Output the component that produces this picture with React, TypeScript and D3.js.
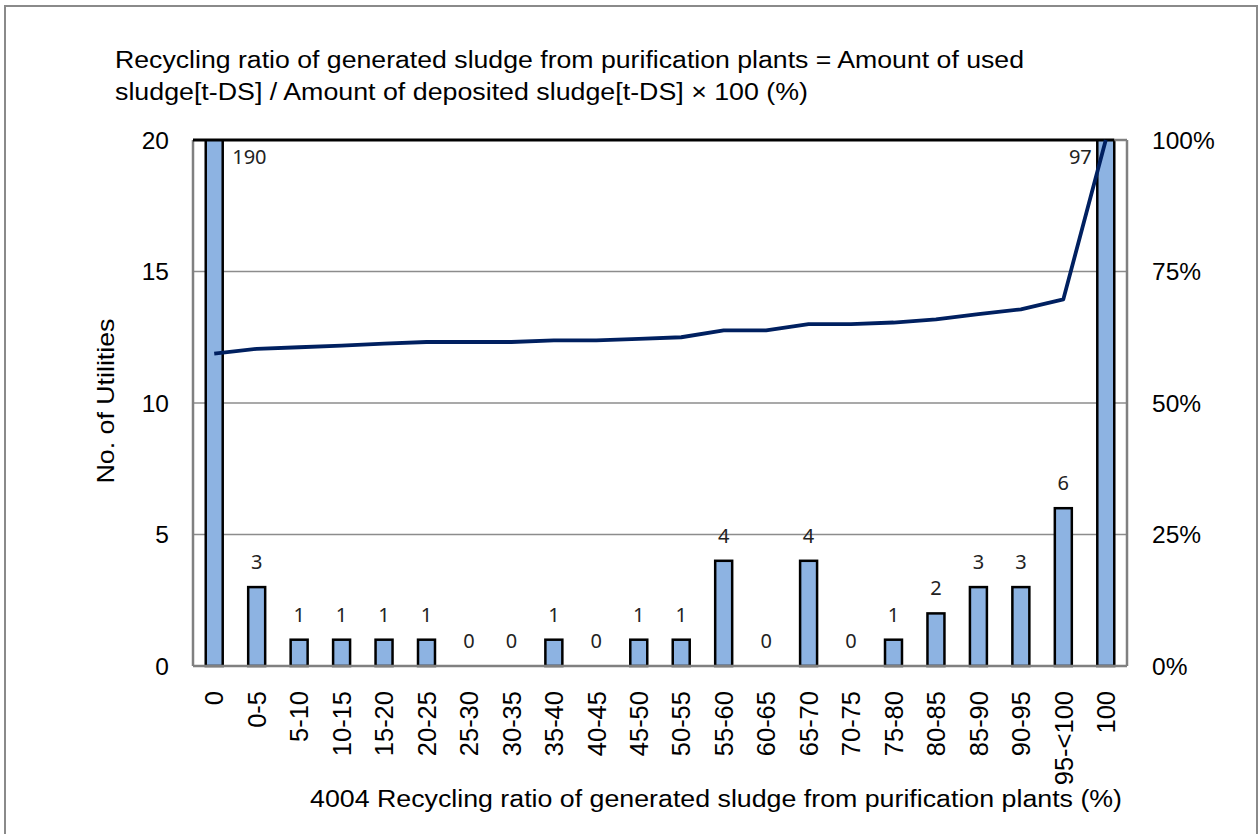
import React from "react";
import * as d3 from "d3";

const categories = ["0","0-5","5-10","10-15","15-20","20-25","25-30","30-35","35-40","40-45","45-50","50-55","55-60","60-65","65-70","70-75","75-80","80-85","85-90","90-95","95-<100","100"];
const counts = [190,3,1,1,1,1,0,0,1,0,1,1,4,0,4,0,1,2,3,3,6,97];
const cumulativePct = [59.4,60.3,60.6,60.9,61.3,61.6,61.6,61.6,61.9,61.9,62.2,62.5,63.8,63.8,65.0,65.0,65.3,65.9,66.9,67.8,69.7,100];
const leftTicks = [0,5,10,15,20];
const rightTicks = [0,25,50,75,100];
const titleLines = [
  "Recycling ratio of generated sludge from purification plants = Amount of used",
  "sludge[t-DS] / Amount of deposited sludge[t-DS] \u00d7 100  (%)",
];
const xTitle = "4004  Recycling ratio of generated sludge from purification plants (%)";
const yTitle = "No. of Utilities";

const W = 1259, H = 834;
const L = 193, R = 1127, T = 140, B = 666;
const FONT = "'Liberation Sans', Arial, sans-serif";
const LFONT = "'Noto Sans', sans-serif";

export default function App() {
  const x = d3.scaleBand<string>().domain(categories).range([L, R]).paddingInner(0.6).paddingOuter(0.3);
  const yL = d3.scaleLinear().domain([0, 20]).range([B, T]);
  const yR = d3.scaleLinear().domain([0, 100]).range([B, T]);
  const cx = (c: string) => (x(c) as number) + x.bandwidth() / 2;
  const line = d3.line<number>().x((_, i) => cx(categories[i])).y((d) => yR(d));
  const lastX = (x(categories[categories.length - 1]) as number) + x.bandwidth();

  return (
    <svg width={W} height={H} style={{ position: "absolute", left: 0, top: 0, background: "#fff" }}>
      <defs>
        <clipPath id="plotclip">
          <rect x={L - 2} y={T} width={R - L + 4} height={B - T + 2} />
        </clipPath>
      </defs>
      <rect x={5} y={6} width={W - 7} height={H + 10} fill="#fff" stroke="#8a8a8a" strokeWidth={2} />
      {titleLines.map((t, i) => (
        <text key={i} x={115} y={68 + i * 32} fontFamily={FONT} fontSize={23.5} fill="#000"
          textLength={i === 0 ? 909 : 693} lengthAdjust="spacingAndGlyphs">{t}</text>
      ))}
      {[5, 10, 15].map((v) => (
        <line key={v} x1={L} x2={R} y1={yL(v)} y2={yL(v)} stroke="#8c8c8c" strokeWidth={1.5} />
      ))}
      <g clipPath="url(#plotclip)">
        {counts.map((v, i) => {
          const top = yL(Math.min(v, 21));
          return (
            <rect key={i} x={x(categories[i]) as number} y={top} width={x.bandwidth()} height={B - top}
              fill="#8db3e2" stroke="#000" strokeWidth={2.5} />
          );
        })}
      </g>
      <line x1={L} x2={L} y1={T} y2={B} stroke="#808080" strokeWidth={2.5} />
      <line x1={R} x2={R} y1={T} y2={B} stroke="#808080" strokeWidth={2.5} />
      <line x1={L} x2={R} y1={B} y2={B} stroke="#808080" strokeWidth={2.5} />
      <line x1={lastX} x2={R} y1={T} y2={T} stroke="#808080" strokeWidth={2.5} />
      <line x1={L} x2={lastX} y1={T} y2={T} stroke="#000" strokeWidth={2.8} />
      <path d={line(cumulativePct) as string} fill="none" stroke="#002060" strokeWidth={3.8} strokeLinejoin="round" />
      {counts.map((v, i) => {
        const c = categories[i];
        if (v > 20) {
          const first = i === 0;
          return (
            <text key={i} x={first ? cx(c) + 18 : cx(c) - 14} y={164} textAnchor={first ? "start" : "end"}
              fontFamily={LFONT} fontSize={20} fill="#222">{v}</text>
          );
        }
        return (
          <text key={i} x={cx(c)} y={yL(v) - 18} textAnchor="middle" fontFamily={LFONT} fontSize={20} fill="#222">{v}</text>
        );
      })}
      {leftTicks.map((v) => (
        <text key={v} x={169} y={yL(v)} dy="0.36em" textAnchor="end" fontFamily={FONT} fontSize={24.5}>{v}</text>
      ))}
      {rightTicks.map((v) => (
        <text key={v} x={1152} y={yR(v)} dy="0.36em" textAnchor="start" fontFamily={FONT} fontSize={24.5}>{v + "%"}</text>
      ))}
      {categories.map((c) => (
        <text key={c} transform={`translate(${cx(c)},691) rotate(-90)`} dy="0.36em" textAnchor="end"
          fontFamily={FONT} fontSize={25.5}>{c}</text>
      ))}
      <text x={716} y={807} textAnchor="middle" fontFamily={FONT} fontSize={23.5} textLength={812} lengthAdjust="spacingAndGlyphs">{xTitle}</text>
      <text transform={`translate(114,401) rotate(-90)`} textAnchor="middle" fontFamily={FONT} fontSize={24}
        textLength={165} lengthAdjust="spacingAndGlyphs">{yTitle}</text>
    </svg>
  );
}
